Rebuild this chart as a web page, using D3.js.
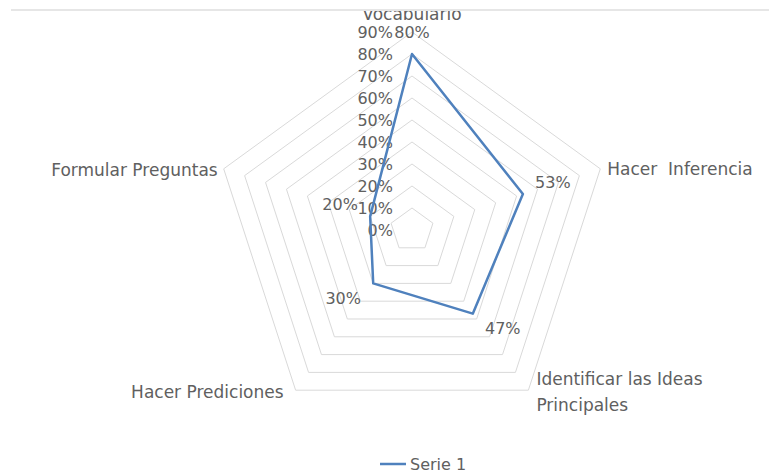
<!DOCTYPE html>
<html>
<head>
<meta charset="utf-8">
<script src="https://cdn.jsdelivr.net/npm/d3@7"></script>
<style>
  body { margin: 0; background: #fff; }
  svg { display: block; }
  text { font-family: "DejaVu Sans", sans-serif; fill: #606060; }
</style>
</head>
<body>
<div id="chart"></div>
<script>
// ---------------------------------------------------
// DATA
// ---------------------------------------------------
const categories = ["Vocabulario", "Hacer  Inferencia", "Identificar las Ideas Principales", "Hacer Prediciones", "Formular Preguntas"];
const values = [0.80, 0.53, 0.47, 0.30, 0.20];
const ticks = [0, 0.1, 0.2, 0.3, 0.4, 0.5, 0.6, 0.7, 0.8, 0.9];
const tickLabels = ["0%", "10%", "20%", "30%", "40%", "50%", "60%", "70%", "80%", "90%"];
const seriesName = "Serie 1";

// ---------------------------------------------------
// DIMENSIONS
// ---------------------------------------------------
const width = 769;
const height = 475;
const cx = 412, cy = 230;
const outerR = 198;
const fontSize = 16;
const catFontSize = 17;

const svg = d3.select("#chart")
  .append("svg")
  .attr("width", width)
  .attr("height", height);

const r = d3.scaleLinear()
  .domain([0, d3.max(ticks)])
  .range([0, outerR]);

// angle: 0 at top, clockwise
const angle = d3.scaleLinear()
  .domain([0, categories.length])
  .range([0, 2 * Math.PI]);

const pt = (i, v) => [
  cx + r(v) * Math.sin(angle(i)),
  cy - r(v) * Math.cos(angle(i))
];

const g = svg.append("g");

// ---------------------------------------------------
// GRID RINGS (pentagons)
// ---------------------------------------------------
const ringLine = d3.line();
g.selectAll(".ring")
  .data(ticks.filter(t => t > 0))
  .join("path")
  .attr("class", "ring")
  .attr("fill", "none")
  .attr("stroke", "#d9d9d9")
  .attr("stroke-width", 1)
  .attr("d", t => ringLine(categories.map((c, i) => pt(i, t))) + "Z");

// ---------------------------------------------------
// TICK LABELS (value axis along the first spoke)
// ---------------------------------------------------
g.selectAll(".tick-label")
  .data(ticks)
  .join("text")
  .attr("class", "tick-label")
  .attr("x", cx - 19)
  .attr("y", t => cy - r(t))
  .attr("dy", "0.35em")
  .attr("text-anchor", "end")
  .attr("font-size", fontSize)
  .text((t, i) => tickLabels[i]);

// ---------------------------------------------------
// SERIES LINE
// ---------------------------------------------------
g.append("path")
  .attr("fill", "none")
  .attr("stroke", "#4f81bd")
  .attr("stroke-width", 2.5)
  .attr("stroke-linejoin", "round")
  .attr("d", ringLine(values.map((v, i) => pt(i, v))) + "Z");

// ---------------------------------------------------
// DATA LABELS
// ---------------------------------------------------
const pct = d3.format(".0%");
g.selectAll(".data-label")
  .data(values)
  .join("text")
  .attr("class", "data-label")
  .attr("x", (v, i) => {
    const s = Math.sin(angle(i));
    return pt(i, v)[0] + (Math.abs(s) < 1e-6 ? 0 : Math.sign(s) * 30);
  })
  .attr("y", (v, i) => {
    const c = Math.cos(angle(i));
    const off = i === 0 ? -22 : (c > 0 ? -12 : 15);
    return pt(i, v)[1] + off;
  })
  .attr("dy", "0.35em")
  .attr("text-anchor", "middle")
  .attr("font-size", fontSize)
  .text(v => pct(v));

// ---------------------------------------------------
// CATEGORY LABELS
// ---------------------------------------------------
const wrap = (s, max) => {
  const words = s.split(" ");
  const lines = [];
  let cur = "";
  words.forEach(w => {
    const next = cur === "" ? w : cur + " " + w;
    if (next.length > max && cur.trim() !== "") { lines.push(cur); cur = w; }
    else cur = next;
  });
  lines.push(cur);
  return lines;
};

const lineH = 26;
categories.forEach((c, i) => {
  const [vx, vy] = pt(i, d3.max(ticks));
  const s = Math.sin(angle(i));
  const co = Math.cos(angle(i));
  const lines = wrap(c, 22);
  let anchor = "middle", x = vx, yc = vy;
  if (Math.abs(s) < 1e-6) { yc = vy - 18; }
  else if (s > 0) { anchor = "start"; x = vx + (co > 0 ? 7 : 8); yc = co > 0 ? vy : vy + 2; }
  else { anchor = "end"; x = vx - (co > 0 ? 6 : 12); yc = co > 0 ? vy + 1 : vy + 2; }

  const t = g.append("text")
    .attr("class", "cat-label")
    .attr("text-anchor", anchor)
    .attr("font-size", catFontSize)
    .style("white-space", "pre")
    .attr("xml:space", "preserve");
  lines.forEach((ln, k) => {
    t.append("tspan")
      .attr("x", x)
      .attr("y", yc + (k - (lines.length - 1) / 2) * lineH)
      .attr("dy", "0.35em")
      .text(ln);
  });
});

// top edge of the chart frame
svg.append("rect")
  .attr("x", 0).attr("y", 0)
  .attr("width", width).attr("height", 9)
  .attr("fill", "#fff");
svg.append("line")
  .attr("x1", 11).attr("x2", width)
  .attr("y1", 10).attr("y2", 10)
  .attr("stroke", "#e6e6e6")
  .attr("stroke-width", 2);

// ---------------------------------------------------
// LEGEND
// ---------------------------------------------------
const legend = svg.append("g")
  .attr("transform", `translate(380, 464)`);
legend.append("line")
  .attr("x1", 0).attr("x2", 26)
  .attr("stroke", "#4f81bd")
  .attr("stroke-width", 2.5);
legend.append("text")
  .attr("x", 30)
  .attr("dy", "0.35em")
  .attr("font-size", fontSize)
  .text(seriesName);
</script>
</body>
</html>
